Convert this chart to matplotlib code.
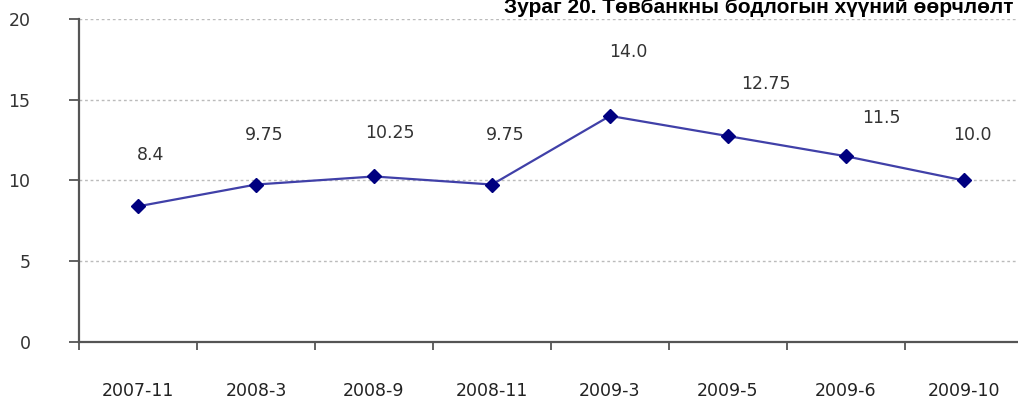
import numpy as np
import matplotlib.pyplot as plt

periods = ['2007-11', '2008-3', '2008-9', '2008-11', '2009-3', '2009-5', '2009-6', '2009-10']
rates = [8.4, 9.75, 10.25, 9.75, 14.0, 12.75, 11.5, 10.0]
rate_labels = ['8.4', '9.75', '10.25', '9.75', '14.0', '12.75', '11.5', '10.0']
title = 'Зураг 20. Төвбанкны бодлогын хүүний өөрчлөлт'

# label offsets in pixels (dx, dy)
label_dx = [13, 8, 16, 13, 18, 38, 35, 8]
label_dy = [51, 50, 43, 50, 64, 52, 38, 45]

plt.rcParams['font.family'] = ['DejaVu Sans']

fig = plt.figure(figsize=(10.18, 4.04), dpi=100)
ax = fig.add_axes([79 / 1018, 62 / 404, 944 / 1018, 323 / 404])

x = np.arange(len(periods))
ax.plot(x, rates, color='#4040a8', lw=1.6, marker='D', ms=7,
        mfc='#000080', mec='#000080', zorder=3)

for i in range(len(x)):
    ax.annotate(rate_labels[i], (x[i], rates[i]), xytext=(label_dx[i], label_dy[i]),
                textcoords='offset pixels', ha='center', va='center',
                fontsize=12.5, color='#333333')

ax.set_xlim(-0.5, len(periods) - 0.5)
ax.set_ylim(0, 20)
ax.set_yticks([0, 5, 10, 15, 20])
ax.set_xticks(x)
ax.set_xticklabels(periods)
ax.set_xticks(np.arange(len(periods)) - 0.5, minor=True)
ax.tick_params(axis='x', which='major', length=0, pad=29, labelsize=12.5, labelcolor='#222222')
ax.tick_params(axis='x', which='minor', length=6, width=1.3, color='#555555', direction='out')
ax.tick_params(axis='y', length=7, width=1.3, color='#555555', pad=28, labelsize=12.5, labelcolor='#333333')

ax.grid(axis='y', color='#bbbbbb', ls=(0, (2, 2)), lw=1)
ax.spines['top'].set_visible(False)
ax.spines['right'].set_visible(False)
ax.spines['left'].set_color('#555555')
ax.spines['bottom'].set_color('#555555')
ax.spines['left'].set_linewidth(1.6)
ax.spines['bottom'].set_linewidth(1.6)

fig.text(1014 / 1018, 1 - 13 / 404, title, ha='right', va='baseline',
         fontsize=15, fontweight='bold', family=['Liberation Sans', 'DejaVu Sans'])

fig.savefig('out.png', dpi=100)
